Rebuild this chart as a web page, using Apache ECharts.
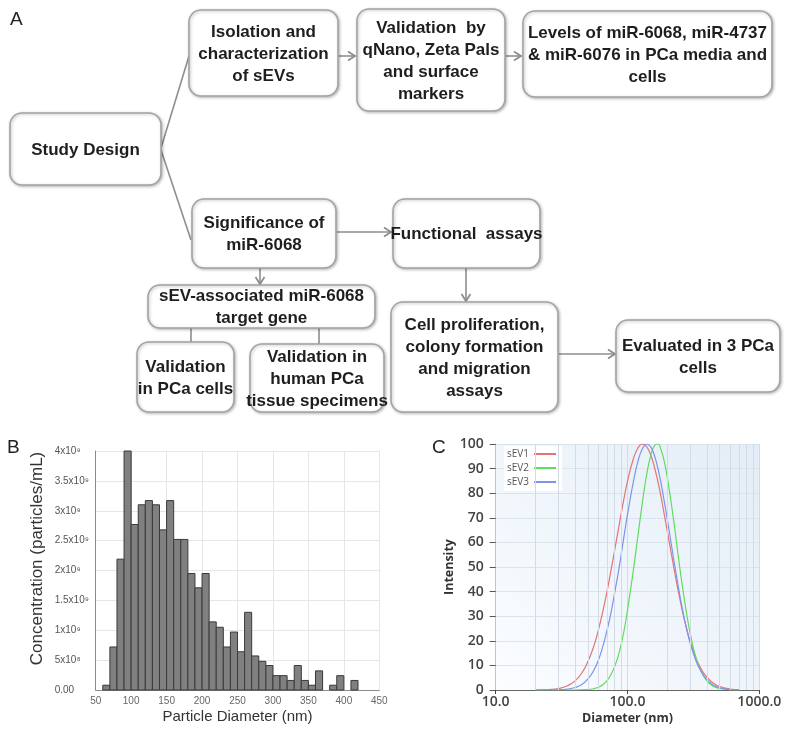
<!DOCTYPE html>
<html><head><meta charset="utf-8">
<script src="https://cdn.jsdelivr.net/npm/echarts@6/dist/echarts.min.js"></script>
<style>html,body{margin:0;padding:0;background:#fff}#c{width:792px;height:734px}</style>
</head><body><div id="c"></div>
<script>
// ---------- Panel A (flowchart) texts ----------
const flowTexts = [
  'Study Design',
  'Isolation and\ncharacterization\nof sEVs',
  'Validation  by\nqNano, Zeta Pals\nand surface\nmarkers',
  'Levels of miR-6068, miR-4737\n& miR-6076 in PCa media and\ncells',
  'Significance of\nmiR-6068',
  'Functional  assays',
  'sEV-associated miR-6068\ntarget gene',
  'Validation\nin PCa cells',
  'Validation in\nhuman PCa\ntissue specimens',
  'Cell proliferation,\ncolony formation\nand migration\nassays',
  'Evaluated in 3 PCa\ncells'
];
const panelLabels = ['A', 'B', 'C'];

// ---------- Panel B (histogram) ----------
const binLeft  = [60,70,80,90,100,110,120,130,140,150,160,170,180,190,200,210,220,230,240,250,260,270,280,290,300,310,320,330,340,350,360,370,380,390,400,410];
const binRight = [70,80,90,100,110,120,130,140,150,160,170,180,190,200,210,220,230,240,250,260,270,280,290,300,310,320,330,340,350,360,370,380,390,400,410,420];
// concentration in units of 1e9 particles/mL
const concentration = [0.08,0.72,2.19,4.0,2.77,3.1,3.17,3.1,2.68,3.17,2.52,2.52,1.95,1.71,1.95,1.14,1.05,0.72,0.97,0.64,1.3,0.57,0.48,0.41,0.24,0.24,0.16,0.41,0.16,0.08,0.32,0,0.08,0.24,0,0.16];
const bYTickLabels = ['0.00','5x10\u2078','1x10\u2079','1.5x10\u2079','2x10\u2079','2.5x10\u2079','3x10\u2079','3.5x10\u2079','4x10\u2079'];

// ---------- Panel C (DLS intensity) ----------
const diameters = [20,25,30,35,40,45,50,55,60,65,70,75,80,85,90,95,100,110,120,130,140,150,160,170,180,190,200,220,240,260,280,300,330,360,400,450,500,600,700];
const sEV1 = [0,0.2,0.6,1.7,3.7,6.9,11.5,17.2,24.2,32,40.2,48.7,57,64.9,72.3,79.1,84.8,93.4,98.4,100,98.8,95.5,90.6,84.8,78.3,71.4,64.9,52.5,41.6,32.5,25.2,19.4,13,8.8,5.2,2.7,1.4,0.4,0.1];
const sEV2 = [0,0,0,0,0,0.1,0.2,0.5,1.1,2.1,3.9,6.3,9.7,13.8,19.1,25.2,32.5,47.5,62.7,76.6,87.8,95.3,99.3,100,97.5,92.9,86.7,72,56.5,42.7,31.5,22.7,13.3,7.8,3.7,1.4,0.6,0.1,0];
const sEV3 = [0,0,0.1,0.4,1.0,2.2,4.4,7.6,12,17.7,24.4,31.5,39.7,47.5,55.8,64,71.3,83.8,92.9,98.2,100,98.8,95.3,90.1,83.8,76.7,69.7,55.9,43.6,33.3,25.2,18.8,12,7.7,4.2,1.9,0.9,0.2,0.1];
const seriesNames = ['sEV1','sEV2','sEV3'];
const cXTicks = [10,100,1000];
const cXTickLabels = ['10.0','100.0','1000.0'];
const cMinorGrid = [20,30,40,50,60,70,80,90,200,300,400,500,600,700,800,900];

// ---------- layout / style (kept apart from data) ----------
const boxes = [
  [10,113,151,72],[189,10,149,86],[357,9,148,102],[523,11,249,86],
  [192,199,144,69],[393,199,147,69],[148,285,227,43],
  [137,342,97,70],[250,344,134,68],[391,302,167,110],[616,320,164,72]
];
const connectors = [ // [x1,y1,x2,y2,arrow]
  [161,148,189,56,0],[161,150,191,240,0],
  [339,56,355,56,1],[506,56,521,56,1],
  [337,232,391,232,1],[260,268,260,284,1],
  [191,328,191,342,0],[319,328,319,344,0],
  [466,268,466,301,1],[559,354,615,354,1]
];
const flowFont = '"Liberation Sans Narrow","Liberation Sans",Arial,sans-serif';
const lineGray = '#8e8e8e';

const graphic = [];
boxes.forEach((b, i) => {
  graphic.push({type:'rect', shape:{x:b[0], y:b[1], width:b[2], height:b[3], r:12},
    style:{fill:'#fff', stroke:'#a3a3a3', lineWidth:1.6, shadowBlur:3, shadowOffsetX:1, shadowOffsetY:1, shadowColor:'rgba(0,0,0,0.25)'}, z:10});
  graphic.push({type:'text', x:b[0]+b[2]/2, y:b[1]+b[3]/2+1, z:11,
    style:{text:flowTexts[i], align:'center', verticalAlign:'middle', fontSize:17, fontWeight:'bold', fontFamily:flowFont, fill:'#1e1e1e', lineHeight:22}});
});
connectors.forEach(c => {
  graphic.push({type:'line', shape:{x1:c[0], y1:c[1], x2:c[2], y2:c[3]}, style:{stroke:lineGray, lineWidth:1.6}, z:9});
  if (c[4]) {
    const ang = Math.atan2(c[3]-c[1], c[2]-c[0]);
    const L = 7, W = 4.5;
    const bx = c[2] - L*Math.cos(ang), by = c[3] - L*Math.sin(ang);
    const px = -Math.sin(ang)*W, py = Math.cos(ang)*W;
    graphic.push({type:'polyline', shape:{points:[[bx+px,by+py],[c[2],c[3]],[bx-px,by-py]]}, style:{stroke:lineGray, lineWidth:1.8, fill:null}, z:9});
  }
});
const labelPos = [[10,20],[7,448],[432,448]];
panelLabels.forEach((t, i) => {
  graphic.push({type:'text', x:labelPos[i][0], y:labelPos[i][1], z:11,
    style:{text:t, fontSize:19, fontFamily:'"Liberation Sans",Arial,sans-serif', fill:'#222', verticalAlign:'middle', align:'left'}});
});

const chart = echarts.init(document.getElementById('c'), null, {renderer:'canvas'});
const arial = '"Liberation Sans",Arial,sans-serif';
const open = '"Open Sans",sans-serif';

const option = {
  animation:false,
  backgroundColor:'#fff',
  graphic: graphic,
  legend: {
    data: seriesNames, orient:'vertical', left:504, top:446, align:'right',
    icon:'rect', itemWidth:22, itemHeight:2, itemGap:4,
    textStyle:{fontSize:10, color:'#555', fontFamily:open, padding:[0,0,0,0]},
    backgroundColor:'#fff', padding:[3,6,4,3]
  },
  grid: [
    {left:95.7, top:451, width:283.6, height:239},
    {left:495.7, top:444, width:263.6, height:246, show:true, borderWidth:0,
     backgroundColor:{type:'linear', x:0, y:1, x2:1, y2:0, colorStops:[{offset:0,color:'#fbfdff'},{offset:1,color:'#e3edf7'}]}}
  ],
  xAxis: [
    {gridIndex:0, type:'value', min:50, max:450, interval:50,
     axisLine:{show:true, lineStyle:{color:'#8a8a8a'}}, axisTick:{show:false},
     axisLabel:{fontSize:10, color:'#666', margin:6, fontFamily:arial},
     splitLine:{show:true, lineStyle:{color:'#e6e6e6'}},
     name:'Particle Diameter (nm)', nameLocation:'middle', nameGap:19,
     nameTextStyle:{fontSize:15, color:'#333', fontFamily:arial}},
    {gridIndex:1, type:'log', logBase:10, min:10, max:1000,
     axisLine:{show:true, lineStyle:{color:'#666'}}, axisTick:{show:true, length:4, lineStyle:{color:'#444'}},
     axisLabel:{fontSize:14, fontWeight:600, color:'#444', fontFamily:open, margin:5,
       formatter: v => { const k = cXTicks.indexOf(Math.round(v)); return k >= 0 ? cXTickLabels[k] : ''; }},
     splitLine:{show:true, lineStyle:{color:'#d3dce6'}},
     name:'Diameter (nm)', nameLocation:'middle', nameGap:22,
     nameTextStyle:{fontSize:12.5, fontWeight:'bold', color:'#333', fontFamily:open}}
  ],
  yAxis: [
    {gridIndex:0, type:'value', min:0, max:4, interval:0.5,
     axisLine:{show:true, lineStyle:{color:'#8a8a8a'}}, axisTick:{show:false},
     axisLabel:{align:'left', margin:41, fontSize:10, color:'#555', fontFamily:arial,
       formatter: v => bYTickLabels[Math.round(v/0.5)]},
     splitLine:{show:true, lineStyle:{color:'#e6e6e6'}},
     name:'Concentration (particles/mL)', nameLocation:'middle', nameGap:50,
     nameTextStyle:{fontSize:17, color:'#333', fontFamily:arial, padding:[0,0,0,24]}},
    {gridIndex:1, type:'value', min:0, max:100, interval:10,
     axisLine:{show:true, lineStyle:{color:'#c4c4c4'}}, axisTick:{show:true, length:6, lineStyle:{color:'#555'}},
     axisLabel:{margin:12, fontSize:14, fontWeight:600, color:'#444', fontFamily:open},
     splitLine:{show:true, lineStyle:{color:'#dbe3eb'}},
     name:'Intensity', nameLocation:'middle', nameGap:33,
     nameTextStyle:{fontSize:12.5, fontWeight:'bold', color:'#333', fontFamily:open}}
  ],
  series: [
    {type:'custom', name:'hist', xAxisIndex:0, yAxisIndex:0,
     data: binLeft.map((l, i) => [l, binRight[i], concentration[i]]),
     renderItem: (params, api) => {
       const v = api.value(2);
       if (!v) return null;
       const p0 = api.coord([api.value(0), v]);
       const p1 = api.coord([api.value(1), 0]);
       return {type:'rect', shape:{x:p0[0], y:p0[1], width:p1[0]-p0[0], height:p1[1]-p0[1]},
         style:{fill:'#808080', stroke:'#3a3a3a', lineWidth:1}};
     }},
    {type:'line', name:'grid', xAxisIndex:1, yAxisIndex:1, data:[], z:1, silent:true,
     markLine:{silent:true, symbol:['none','none'], label:{show:false}, animation:false,
       lineStyle:{color:'#d3dce6', type:'solid', width:1},
       data: cMinorGrid.map(v => ({xAxis:v}))}},
    ...[sEV1, sEV2, sEV3].map((arr, k) => ({
      type:'line', name:seriesNames[k], xAxisIndex:1, yAxisIndex:1, smooth:true, showSymbol:false, z:3,
      data: diameters.map((d, i) => [d, arr[i]]),
      lineStyle:{width:1.2, color:['#e57373','#5fdc5f','#7f93ec'][k]},
      itemStyle:{color:['#e57373','#5fdc5f','#7f93ec'][k]}
    }))
  ]
};
chart.setOption(option);
</script>
</body></html>
